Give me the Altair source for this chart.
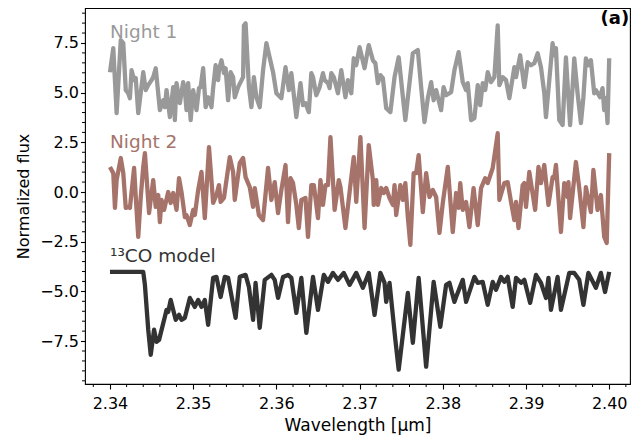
import altair as alt
import pandas as pd

# ---------------- data ----------------
n1_x = [2.3400, 2.3404, 2.3408, 2.3413, 2.3416, 2.3419, 2.3422, 2.3424, 2.3426, 2.3429,
        2.3431, 2.3434, 2.3440, 2.3443, 2.3446, 2.3450, 2.3452, 2.3455, 2.3460, 2.3464,
        2.3466, 2.3468, 2.3472, 2.3476, 2.3478, 2.3480, 2.3484, 2.3488, 2.3490, 2.3492,
        2.3494, 2.3497, 2.3500, 2.3504, 2.3507, 2.3509, 2.3512, 2.3515, 2.3518, 2.3522,
        2.3524, 2.3527, 2.3530, 2.3531, 2.3534, 2.3537, 2.3539, 2.3542, 2.3545, 2.3548,
        2.3550, 2.3554, 2.3557, 2.3560, 2.3561, 2.3563, 2.3567, 2.3570, 2.3573, 2.3576,
        2.3580, 2.3584, 2.3588, 2.3596, 2.3600, 2.3606, 2.3611, 2.3615, 2.3618, 2.3624,
        2.3629, 2.3632, 2.3635, 2.3639, 2.3642, 2.3644, 2.3648, 2.3652, 2.3656, 2.3658,
        2.3662, 2.3664, 2.3666, 2.3669, 2.3674, 2.3678, 2.3683, 2.3686, 2.3690, 2.3693,
        2.3696, 2.3700, 2.3706, 2.3711, 2.3716, 2.3719, 2.3722, 2.3725, 2.3728, 2.3732,
        2.3737, 2.3742, 2.3747, 2.3755, 2.3764, 2.3770, 2.3774, 2.3778, 2.3782, 2.3786,
        2.3789, 2.3792, 2.3798, 2.3801, 2.3804, 2.3810, 2.3814, 2.3819, 2.3824, 2.3828,
        2.3830, 2.3834, 2.3838, 2.3842, 2.3845, 2.3848, 2.3851, 2.3854, 2.3858, 2.3862,
        2.3866, 2.3868, 2.3872, 2.3876, 2.3880, 2.3886, 2.3888, 2.3893, 2.3898, 2.3902,
        2.3906, 2.3910, 2.3914, 2.3918, 2.3922, 2.3924, 2.3932, 2.3934, 2.3936, 2.3940,
        2.3944, 2.3948, 2.3953, 2.3956, 2.3958, 2.3962, 2.3966, 2.3969, 2.3972, 2.3975,
        2.3978, 2.3982, 2.3984, 2.3989, 2.3992, 2.3994, 2.3996, 2.3998, 2.4000]
n1_y = [6.03, 7.24, 3.97, 7.64, 7.49, 5.13, 4.97, 4.72, 6.13, 5.63,
        5.73, 3.97, 6.03, 5.13, 5.38, 5.63, 5.78, 6.23, 4.12, 4.62,
        4.27, 5.13, 3.77, 5.28, 3.62, 5.48, 4.47, 5.53, 5.13, 4.12,
        5.48, 3.62, 5.13, 4.12, 5.23, 5.28, 6.23, 4.27, 4.77, 4.27,
        5.23, 6.38, 5.63, 6.13, 6.63, 5.98, 6.23, 4.62, 6.03, 5.78,
        4.77, 5.28, 5.53, 5.78, 8.39, 8.49, 5.28, 4.27, 5.78, 4.77,
        4.27, 6.13, 7.49, 6.03, 4.97, 4.72, 6.28, 5.13, 5.98, 3.77,
        5.48, 4.37, 4.47, 4.02, 5.98, 5.78, 4.87, 5.28, 5.98, 5.63,
        5.48, 5.23, 5.98, 5.78, 4.97, 6.13, 4.77, 5.63, 4.97, 6.73,
        6.38, 7.29, 6.23, 7.39, 6.63, 6.48, 5.48, 5.88, 5.73, 4.22,
        4.02, 5.78, 6.78, 3.62, 6.98, 7.14, 5.28, 3.52, 4.72, 5.53,
        4.62, 5.13, 4.12, 5.28, 4.87, 5.03, 6.13, 7.04, 5.53, 5.13,
        5.48, 3.62, 3.72, 5.38, 4.37, 5.48, 5.13, 6.03, 5.53, 5.78,
        8.39, 5.38, 5.78, 5.63, 4.72, 6.28, 5.78, 6.88, 5.28, 6.53,
        6.38, 6.48, 6.98, 6.28, 4.97, 3.77, 7.49, 6.88, 7.24, 3.62,
        3.37, 6.78, 3.37, 5.28, 6.73, 4.97, 3.47, 4.77, 6.73, 6.38,
        6.63, 4.97, 5.13, 4.77, 5.23, 4.12, 4.72, 3.47, 6.73]

n2_x = [2.3400, 2.3404, 2.3406, 2.3408, 2.3413, 2.3416, 2.3419, 2.3422, 2.3424, 2.3429,
        2.3431, 2.3434, 2.3437, 2.3440, 2.3442, 2.3447, 2.3452, 2.3455, 2.3458, 2.3460,
        2.3462, 2.3465, 2.3470, 2.3473, 2.3476, 2.3480, 2.3483, 2.3486, 2.3490, 2.3492,
        2.3496, 2.3500, 2.3502, 2.3506, 2.3510, 2.3514, 2.3516, 2.3519, 2.3524, 2.3528,
        2.3531, 2.3533, 2.3537, 2.3540, 2.3544, 2.3548, 2.3550, 2.3556, 2.3560, 2.3563,
        2.3568, 2.3572, 2.3574, 2.3579, 2.3584, 2.3590, 2.3594, 2.3598, 2.3602, 2.3606,
        2.3611, 2.3614, 2.3617, 2.3620, 2.3624, 2.3627, 2.3630, 2.3635, 2.3638, 2.3642,
        2.3645, 2.3650, 2.3653, 2.3656, 2.3659, 2.3662, 2.3665, 2.3670, 2.3675, 2.3677,
        2.3683, 2.3688, 2.3693, 2.3696, 2.3701, 2.3706, 2.3711, 2.3716, 2.3717, 2.3720,
        2.3722, 2.3726, 2.3729, 2.3732, 2.3736, 2.3740, 2.3742, 2.3744, 2.3749, 2.3752,
        2.3755, 2.3758, 2.3761, 2.3765, 2.3768, 2.3771, 2.3776, 2.3780, 2.3784, 2.3788,
        2.3792, 2.3796, 2.3800, 2.3806, 2.3812, 2.3816, 2.3819, 2.3821, 2.3824, 2.3828,
        2.3832, 2.3837, 2.3842, 2.3846, 2.3851, 2.3854, 2.3860, 2.3866, 2.3868, 2.3874,
        2.3878, 2.3882, 2.3886, 2.3888, 2.3891, 2.3896, 2.3898, 2.3900, 2.3904, 2.3911,
        2.3915, 2.3918, 2.3922, 2.3927, 2.3932, 2.3934, 2.3936, 2.3942, 2.3946, 2.3950,
        2.3951, 2.3953, 2.3960, 2.3964, 2.3969, 2.3972, 2.3975, 2.3978, 2.3981, 2.3986,
        2.3990, 2.3994, 2.3997, 2.4000]
n2_y = [1.26, 0.95, -0.80, 0.60, 1.71, 0.95, -0.80, -0.75, -0.80, 1.21,
        -0.25, -2.26, -0.25, 1.26, 1.96, -1.06, 0.60, -0.75, -0.15, -1.51,
        -0.40, -0.90, 0.00, -0.55, -0.05, -0.90, 0.70, 0.00, -1.26, -1.16,
        -1.66, -0.90, -1.16, 0.10, 1.01, -1.31, 0.10, 2.26, -0.55, -0.15,
        0.35, -0.50, -0.30, 0.60, 1.76, 1.01, -0.40, 1.46, 1.71, 0.75,
        0.25, -0.75, 0.20, -1.16, -1.41, 1.21, -0.40, 0.50, -1.06, 0.10,
        1.36, -1.51, 0.70, 0.45, -0.65, -1.81, -0.40, -0.30, -2.26, 0.35,
        0.35, -1.31, 0.60, -0.65, 0.35, 0.35, 2.76, -0.90, 0.60, 0.25,
        -1.81, 0.00, 1.76, -0.50, 2.76, -1.81, 2.36, 0.60, -0.65, 0.60,
        -0.65, 0.20, -0.05, 0.20, -0.30, -0.65, 0.35, -1.16, 0.35, -0.40,
        0.45, -1.26, -2.66, 0.95, 0.95, 1.86, -1.01, 0.95, -0.25, 0.10,
        -0.25, -2.06, -0.55, 1.26, -2.01, -0.05, -0.80, 0.45, -0.90, -0.50,
        -1.76, 0.20, -1.66, 0.20, 0.70, 0.45, 1.21, 2.96, -0.40, 0.45,
        0.50, -0.50, -1.41, -0.50, -1.81, 0.35, 0.45, -0.75, 1.01, -0.90,
        1.26, 0.45, 1.36, -0.65, 0.75, 0.70, 1.36, -2.01, 0.45, -0.25,
        0.50, -1.31, 1.51, 0.20, -1.76, 0.25, -0.40, -1.01, 1.11, -0.90,
        -0.15, -2.26, -2.56, 1.96]

co_x = [2.3400, 2.3440, 2.3442, 2.3446, 2.3449, 2.3453, 2.3456, 2.3459, 2.3466, 2.3468,
        2.3470, 2.3473, 2.3479, 2.3483, 2.3486, 2.3490, 2.3496, 2.3502, 2.3506, 2.3510,
        2.3514, 2.3518, 2.3524, 2.3528, 2.3533, 2.3538, 2.3542, 2.3551, 2.3556, 2.3563,
        2.3567, 2.3572, 2.3575, 2.3580, 2.3586, 2.3594, 2.3598, 2.3602, 2.3608, 2.3614,
        2.3618, 2.3624, 2.3630, 2.3636, 2.3644, 2.3650, 2.3657, 2.3662, 2.3668, 2.3674,
        2.3681, 2.3688, 2.3696, 2.3704, 2.3711, 2.3718, 2.3725, 2.3730, 2.3732, 2.3736,
        2.3743, 2.3747, 2.3758, 2.3764, 2.3771, 2.3780, 2.3789, 2.3797, 2.3804, 2.3808,
        2.3814, 2.3816, 2.3824, 2.3828, 2.3838, 2.3842, 2.3848, 2.3854, 2.3860, 2.3864,
        2.3870, 2.3874, 2.3878, 2.3884, 2.3888, 2.3894, 2.3898, 2.3905, 2.3912, 2.3918,
        2.3924, 2.3927, 2.3930, 2.3938, 2.3942, 2.3952, 2.3958, 2.3964, 2.3969, 2.3975,
        2.3984, 2.3990, 2.3995, 2.4000]
co_y = [-4.02, -4.02, -4.67, -6.93, -8.19, -6.93, -7.54, -7.44, -6.28, -5.93,
        -6.03, -5.43, -6.43, -6.18, -6.43, -6.33, -5.33, -5.78, -5.43, -5.78,
        -5.43, -6.68, -4.32, -4.27, -5.28, -4.27, -4.32, -6.33, -4.27, -4.17,
        -4.77, -6.43, -4.57, -6.83, -4.42, -4.17, -4.42, -5.33, -4.27, -4.17,
        -4.32, -6.08, -4.32, -7.09, -4.27, -5.93, -4.17, -4.52, -4.07, -4.42,
        -4.07, -4.67, -4.07, -4.82, -4.07, -6.18, -4.07, -4.57, -5.53, -4.57,
        -7.44, -8.94, -5.08, -7.59, -4.32, -8.79, -4.52, -6.78, -4.67, -4.57,
        -5.53, -5.28, -4.42, -5.53, -4.27, -4.57, -4.52, -5.68, -4.52, -4.92,
        -4.27, -4.52, -4.27, -5.78, -4.32, -4.57, -4.42, -5.58, -4.17, -4.57,
        -5.33, -4.32, -5.93, -4.27, -5.93, -4.07, -4.07, -4.42, -5.68, -4.07,
        -4.82, -4.07, -5.03, -4.02]

series_names = ["Night 1", "Night 2", "13CO model"]
series_colors = ["#999999", "#a6736a", "#333333"]

label_text = ["Night 1", "Night 2", "\u00b9\u00b3CO model"]
label_x = [2.3400, 2.3400, 2.3400]
label_y = [8.05, 2.5, -3.2]

x_major = [2.34, 2.35, 2.36, 2.37, 2.38, 2.39, 2.40]
x_minor = [round(2.338 + 0.002 * i, 3) for i in range(33)]
y_major = [-7.5, -5.0, -2.5, 0.0, 2.5, 5.0, 7.5]
y_minor = [round(-9.5 + 0.5 * i, 1) for i in range(38)]

X_DOM = [2.337, 2.4025]
Y_DOM = [-9.66, 9.26]
FONT = "DejaVu Sans"
W, H = 545, 376

# ---------------- tables ----------------
rows = []
for name, xs, ys in zip(series_names, [n1_x, n2_x, co_x], [n1_y, n2_y, co_y]):
    for i, (a, b) in enumerate(zip(xs, ys)):
        rows.append({"series": name, "wl": a, "flux": b, "order": i})
df = pd.DataFrame(rows)

labels_df = pd.DataFrame({"text": label_text, "wl": label_x, "flux": label_y,
                          "series": series_names})

xminor_df = pd.DataFrame({"wl": [v for v in x_minor if round(v * 100, 6) % 1 != 0]})
yminor_df = pd.DataFrame({"flux": [v for v in y_minor if abs(v / 2.5 - round(v / 2.5)) > 1e-6]})

xs = alt.Scale(domain=X_DOM, nice=False, zero=False)
ys = alt.Scale(domain=Y_DOM, nice=False, zero=False)
cs = alt.Scale(domain=series_names, range=series_colors)

lines = alt.Chart(df).mark_line(strokeWidth=4.3, strokeJoin="round", clip=True).encode(
    x=alt.X("wl:Q", scale=xs, title="Wavelength [\u03bcm]",
            axis=alt.Axis(values=x_major, format=".2f", tickSize=5, tickWidth=1.1,
                          labelPadding=6, titlePadding=6, titleFontSize=17)),
    y=alt.Y("flux:Q", scale=ys, title="Normalized flux",
            axis=alt.Axis(values=y_major, format=".1f", tickSize=4.5, tickWidth=1.1,
                          labelPadding=2, titlePadding=8)),
    color=alt.Color("series:N", scale=cs, legend=None),
    detail="series:N",
    order="order:Q",
)

texts = alt.Chart(labels_df).mark_text(align="left", baseline="middle", fontSize=18.5,
                                       font=FONT).encode(
    x=alt.X("wl:Q", scale=xs),
    y=alt.Y("flux:Q", scale=ys),
    text="text:N",
    color=alt.Color("series:N", scale=cs, legend=None),
)

panel = alt.Chart(pd.DataFrame({"text": ["(a)"], "wl": [2.4024], "flux": [8.7]})).mark_text(
    align="right", baseline="middle", fontSize=18, fontWeight="bold", font=FONT, color="black"
).encode(x=alt.X("wl:Q", scale=xs), y=alt.Y("flux:Q", scale=ys), text="text:N")

xminor = alt.Chart(xminor_df).mark_rule(color="black", strokeWidth=1).encode(
    x=alt.X("wl:Q", scale=xs), y=alt.value(H), y2=alt.value(H + 3))
yminor = alt.Chart(yminor_df).mark_rule(color="black", strokeWidth=1).encode(
    y=alt.Y("flux:Q", scale=ys), x=alt.value(-3), x2=alt.value(0))

chart = alt.layer(lines, texts, panel, xminor, yminor).properties(
    width=W, height=H,
    autosize=alt.AutoSizeParams(type="none"),
    padding={"left": 77, "top": 0, "right": 2, "bottom": 52},
).configure_view(stroke="black", strokeWidth=1.1).configure_axis(
    grid=False, domain=False, labelFont=FONT, titleFont=FONT, labelFontSize=16,
    titleFontSize=16, titleFontWeight="normal", labelColor="black", titleColor="black",
    tickColor="black",
)

chart.save("out.html", embed_options={"renderer": "svg", "actions": False})
